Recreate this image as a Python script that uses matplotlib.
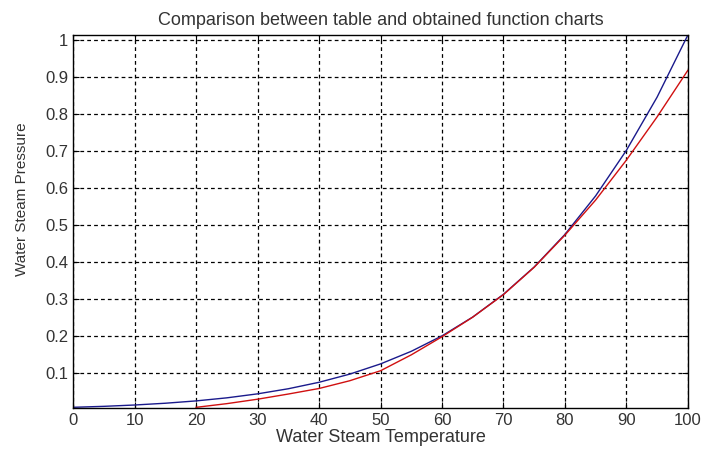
import numpy as np
import matplotlib.pyplot as plt

plt.rcParams['font.family'] = ['Liberation Sans', 'DejaVu Sans']

# table data (blue)
table_temp = [0, 5, 10, 15, 20, 25, 30, 35, 40, 45, 50, 55, 60, 65, 70, 75, 80, 85, 90, 95, 100]
table_press = [0.0061, 0.0087, 0.0123, 0.0171, 0.0234, 0.0317, 0.0425, 0.0563, 0.0738, 0.0959,
               0.1235, 0.1576, 0.1994, 0.2503, 0.3119, 0.3858, 0.4739, 0.5783, 0.7014, 0.8455, 1.0135]

# obtained function (red)
func_temp = [20, 25, 30, 35, 40, 45, 50, 55, 60, 65, 70, 75, 80, 85, 90, 95, 100]
func_press = [0.006, 0.016, 0.028, 0.042, 0.057, 0.078, 0.105, 0.148, 0.197, 0.250,
              0.311, 0.385, 0.472, 0.567, 0.675, 0.792, 0.918]

xticks = list(range(0, 101, 10))
yticks = [0.1, 0.2, 0.3, 0.4, 0.5, 0.6, 0.7, 0.8, 0.9, 1.0]
ytick_labels = ['0.1', '0.2', '0.3', '0.4', '0.5', '0.6', '0.7', '0.8', '0.9', '1']

fig = plt.figure(figsize=(7.04, 4.5), dpi=100)
ax = fig.add_axes([0.104, 0.094, 0.873, 0.828])

ax.plot(table_temp, table_press, color='#1a1a8c', linewidth=1.0)
ax.plot(func_temp, func_press, color='#d01010', linewidth=1.0)

ax.set_xlim(0, 100)
ax.set_ylim(0.005, 1.0135)
ax.set_xticks(xticks)
ax.set_yticks(yticks)
ax.set_yticklabels(ytick_labels)

ax.grid(True, color='black', linestyle=(0, (3, 2.5)), linewidth=0.9)
ax.tick_params(direction='in', top=True, right=True, length=4, labelsize=12,
               colors='black', labelcolor='#333333')
for s in ax.spines.values():
    s.set_linewidth(1.0)

ax.set_title('Comparison between table and obtained function charts', fontsize=13, color='#333333', pad=7)
ax.set_xlabel('Water Steam Temperature', fontsize=13, color='#333333', labelpad=1)
ax.set_ylabel('Water Steam Pressure', fontsize=11, color='#333333')
ax.yaxis.set_label_coords(-0.072, 0.56)

fig.savefig('out.png', dpi=100)
